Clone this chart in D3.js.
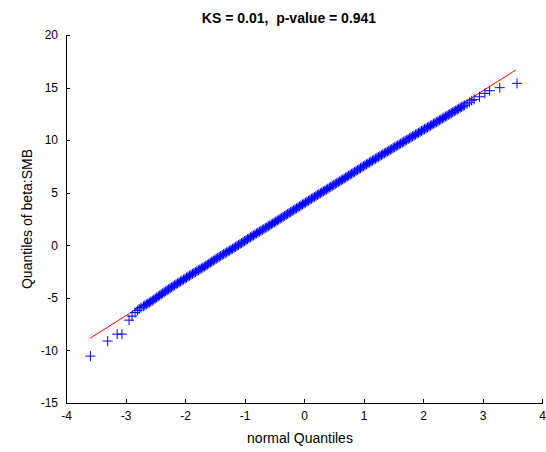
<!DOCTYPE html>
<html>
<head>
<meta charset="utf-8">
<script src="https://cdn.jsdelivr.net/npm/d3@7"></script>
<style>
  body { margin: 0; background: #fff; }
  text { font-family: "Liberation Sans", Arial, sans-serif; }
</style>
</head>
<body>
<script>
// theoretical (normal) quantiles and sample quantiles
var normalQ = [
  -3.59, -3.30, -3.14, -3.06, -2.94, -2.89, -2.84, -2.80, -2.77, -2.74,
  -2.70, -2.65, -2.60, -2.55, -2.50, -2.45, -2.40, -2.35, -2.30, -2.25,
  -2.20, -2.15, -2.10, -2.05, -2.00, -1.95, -1.90, -1.85, -1.80, -1.75,
  -1.70, -1.65, -1.60, -1.55, -1.50, -1.45, -1.40, -1.35, -1.30, -1.25,
  -1.20, -1.15, -1.10, -1.05, -1.00, -0.95, -0.90, -0.85, -0.80, -0.75,
  -0.70, -0.65, -0.60, -0.55, -0.50, -0.45, -0.40, -0.35, -0.30, -0.25,
  -0.20, -0.15, -0.10, -0.05, 0.00, 0.05, 0.10, 0.15, 0.20, 0.25,
  0.30, 0.35, 0.40, 0.45, 0.50, 0.55, 0.60, 0.65, 0.70, 0.75,
  0.80, 0.85, 0.90, 0.95, 1.00, 1.05, 1.10, 1.15, 1.20, 1.25,
  1.30, 1.35, 1.40, 1.45, 1.50, 1.55, 1.60, 1.65, 1.70, 1.75,
  1.80, 1.85, 1.90, 1.95, 2.00, 2.05, 2.10, 2.15, 2.20, 2.25,
  2.30, 2.35, 2.40, 2.45, 2.50, 2.55, 2.60, 2.65, 2.70, 2.74,
  2.78, 2.82, 2.86, 2.95, 3.04, 3.12, 3.29, 3.58
];
var sampleQ = [
  -10.54, -9.11, -8.45, -8.45, -7.12, -6.74, -6.40, -6.20, -6.05, -5.92,
  -5.80, -5.62, -5.45, -5.27, -5.07, -4.86, -4.66, -4.46, -4.27, -4.08,
  -3.90, -3.71, -3.53, -3.35, -3.17, -2.98, -2.80, -2.63, -2.46, -2.29,
  -2.12, -1.94, -1.75, -1.56, -1.37, -1.19, -1.01, -0.84, -0.67, -0.50,
  -0.33, -0.15, 0.03, 0.21, 0.39, 0.58, 0.76, 0.94, 1.12, 1.30,
  1.47, 1.64, 1.81, 1.99, 2.17, 2.35, 2.53, 2.71, 2.89, 3.07,
  3.25, 3.43, 3.61, 3.79, 3.97, 4.15, 4.33, 4.51, 4.69, 4.86,
  5.04, 5.21, 5.39, 5.56, 5.74, 5.91, 6.09, 6.26, 6.44, 6.62,
  6.80, 6.98, 7.16, 7.34, 7.52, 7.70, 7.88, 8.06, 8.23, 8.40,
  8.57, 8.74, 8.91, 9.08, 9.25, 9.42, 9.59, 9.76, 9.93, 10.10,
  10.27, 10.44, 10.61, 10.78, 10.95, 11.12, 11.29, 11.46, 11.63, 11.80,
  11.97, 12.14, 12.31, 12.48, 12.65, 12.82, 12.99, 13.16, 13.32, 13.45,
  13.60, 13.75, 13.88, 14.13, 14.45, 14.70, 14.99, 15.40
];
// the dense middle of the band, points between the ones above
var normalQMid = [
  -2.675, -2.625, -2.575, -2.525, -2.475, -2.425, -2.375, -2.325, -2.275, -2.225,
  -2.175, -2.125, -2.075, -2.025, -1.975, -1.925, -1.875, -1.825, -1.775, -1.725,
  -1.675, -1.625, -1.575, -1.525, -1.475, -1.425, -1.375, -1.325, -1.275, -1.225,
  -1.175, -1.125, -1.075, -1.025, -0.975, -0.925, -0.875, -0.825, -0.775, -0.725,
  -0.675, -0.625, -0.575, -0.525, -0.475, -0.425, -0.375, -0.325, -0.275, -0.225,
  -0.175, -0.125, -0.075, -0.025, 0.025, 0.075, 0.125, 0.175, 0.225, 0.275,
  0.325, 0.375, 0.425, 0.475, 0.525, 0.575, 0.625, 0.675, 0.725, 0.775,
  0.825, 0.875, 0.925, 0.975, 1.025, 1.075, 1.125, 1.175, 1.225, 1.275,
  1.325, 1.375, 1.425, 1.475, 1.525, 1.575, 1.625, 1.675, 1.725, 1.775,
  1.825, 1.875, 1.925, 1.975, 2.025, 2.075, 2.125, 2.175, 2.225, 2.275,
  2.325, 2.375, 2.425, 2.475, 2.525, 2.575, 2.625, 2.675
];
var sampleQMid = [
  -5.71, -5.54, -5.36, -5.17, -4.97, -4.77, -4.57, -4.37, -4.18, -3.99,
  -3.80, -3.62, -3.44, -3.26, -3.08, -2.89, -2.71, -2.55, -2.37, -2.20,
  -2.03, -1.85, -1.66, -1.47, -1.28, -1.10, -0.93, -0.76, -0.59, -0.42,
  -0.24, -0.06, 0.12, 0.30, 0.48, 0.67, 0.85, 1.03, 1.21, 1.38,
  1.55, 1.72, 1.90, 2.08, 2.26, 2.44, 2.62, 2.80, 2.98, 3.16,
  3.34, 3.52, 3.70, 3.88, 4.06, 4.24, 4.42, 4.60, 4.78, 4.95,
  5.13, 5.30, 5.48, 5.65, 5.83, 6.00, 6.18, 6.35, 6.53, 6.71,
  6.89, 7.07, 7.25, 7.43, 7.61, 7.79, 7.97, 8.15, 8.32, 8.49,
  8.66, 8.83, 9.00, 9.17, 9.34, 9.51, 9.68, 9.85, 10.02, 10.19,
  10.36, 10.53, 10.70, 10.87, 11.04, 11.21, 11.38, 11.55, 11.72, 11.89,
  12.06, 12.23, 12.40, 12.57, 12.74, 12.91, 13.08, 13.24
];
// reference line end points (x, y)
var refLineX = [-3.60, 3.56];
var refLineY = [-8.86, 16.67];

var xTicks = [-4, -3, -2, -1, 0, 1, 2, 3, 4];
var yTicks = [-15, -10, -5, 0, 5, 10, 15, 20];

var titleText = "KS = 0.01,  p-value = 0.941";
var xLabel = "normal Quantiles";
var yLabel = "Quantiles of beta:SMB";

var margin = {top: 35, right: 4, bottom: 49, left: 66},
    width = 546 - margin.left - margin.right,
    height = 452 - margin.top - margin.bottom;

var svg = d3.select("body").append("svg")
    .attr("width", 546)
    .attr("height", 452)
    .append("g")
    .attr("transform", "translate(" + margin.left + "," + margin.top + ")");

var xScale = d3.scaleLinear().domain([-4, 4]).range([0, width]);
var yScale = d3.scaleLinear().domain([-15, 20]).range([height, 0]);

// plain hyphen for negative labels, like the original
var plainFormat = function(d) { return String(d); };

// axes, ticks pointing inward
var xAxis = d3.axisBottom(xScale).tickValues(xTicks).tickFormat(plainFormat)
    .tickSizeInner(-4).tickSizeOuter(0).tickPadding(8);
var yAxis = d3.axisLeft(yScale).tickValues(yTicks).tickFormat(plainFormat)
    .tickSizeInner(-4).tickSizeOuter(0).tickPadding(8);

var gx = svg.append("g")
    .attr("transform", "translate(0," + height + ")")
    .call(xAxis);
var gy = svg.append("g")
    .call(yAxis);

[gx, gy].forEach(function(g) {
    g.selectAll("path, line").attr("stroke", "#000").attr("shape-rendering", "crispEdges");
    g.selectAll("text").attr("font-size", "12px").attr("fill", "#000")
        .attr("font-family", "'Liberation Sans', Arial, sans-serif");
});

// reference line (red), drawn under the markers
svg.append("line")
    .attr("x1", xScale(refLineX[0]))
    .attr("y1", yScale(refLineY[0]))
    .attr("x2", xScale(refLineX[1]))
    .attr("y2", yScale(refLineY[1]))
    .attr("stroke", "#ff0000")
    .attr("stroke-width", 1);

var points = normalQ.map(function(x, i) { return [x, sampleQ[i]]; })
    .concat(normalQMid.map(function(x, i) { return [x, sampleQMid[i]]; }));

// '+' markers
var half = 5;
svg.append("g")
    .selectAll("path")
    .data(points)
    .enter().append("path")
    .attr("d", function(d) {
        var cx = xScale(d[0]), cy = yScale(d[1]);
        return "M" + (cx - half) + "," + cy + "H" + (cx + half) +
               "M" + cx + "," + (cy - half) + "V" + (cy + half);
    })
    .attr("stroke", "#0000ff")
    .attr("stroke-width", 1)
    .attr("fill", "none");

// title
svg.append("text")
    .attr("x", 223)
    .attr("y", -12)
    .attr("text-anchor", "middle")
    .attr("font-size", "14px")
    .attr("font-weight", "bold")
    .style("white-space", "pre")
    .text(titleText);

// x label
svg.append("text")
    .attr("x", width / 2 - 4)
    .attr("y", height + 40)
    .attr("text-anchor", "middle")
    .attr("font-size", "14px")
    .text(xLabel);

// y label
svg.append("text")
    .attr("transform", "rotate(-90)")
    .attr("x", -height / 2)
    .attr("y", -34)
    .attr("text-anchor", "middle")
    .attr("font-size", "14px")
    .text(yLabel);
</script>
</body>
</html>
